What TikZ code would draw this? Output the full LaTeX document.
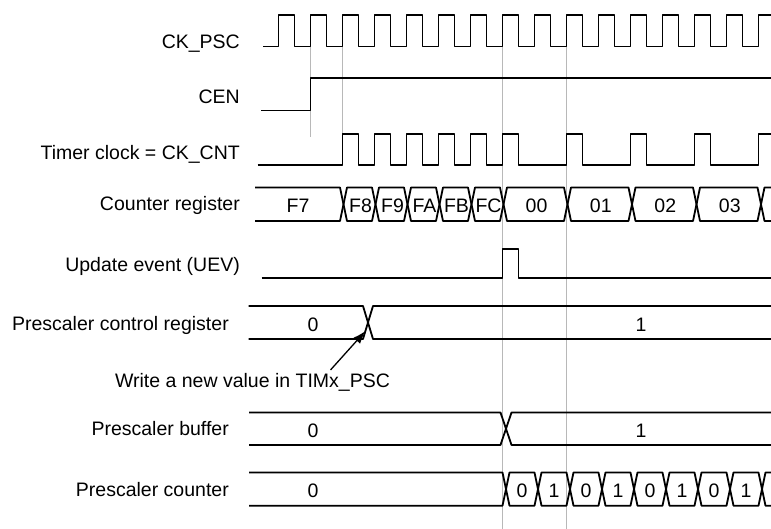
\documentclass[tikz,border=0pt]{standalone}
\usepackage{fontspec}
\setmainfont{Liberation Sans}
\usetikzlibrary{arrows.meta}

\begin{document}
\begin{tikzpicture}[x=1pt,y=-1pt,
    wave/.style={line width=1.8pt, line join=round},
    guide/.style={draw=black!28, line width=0.8pt},
    lbl/.style={anchor=base east, inner sep=0pt, font=\fontsize{19.5}{23}\selectfont},
    val/.style={anchor=base, inner sep=0pt, font=\fontsize{19.5}{23}\selectfont},
    pointer/.style={-{Latex[length=13pt,width=9pt]}, line width=1.3pt}]
  \clip (0,0) rectangle (771,529);
  % signal names
  \draw
    (240,48.7) node[lbl] (ckpsc){CK\_PSC}
    (240,103.5) node[lbl] (cen){CEN}
    (240,159.3) node[lbl] (ckcnt){Timer clock = CK\_CNT}
    (240,211) node[lbl] (cntreg){Counter register}
    (240,271.7) node[lbl] (uev){Update event (UEV)}
    (229,330.7) node[lbl] (pscctl){Prescaler control register}
    (229,435.7) node[lbl] (pscbuf){Prescaler buffer}
    (229,496) node[lbl] (psccnt){Prescaler counter};
  % guide lines
  \draw[guide] (310.5,46.5) -- (310.5,137);
  \draw[guide] (342.5,46.5) -- (342.5,134);
  \draw[guide] (502.5,46.5) -- (502.5,529);
  \draw[guide] (566.5,46.5) -- (566.5,529);
  % CK_PSC
  \draw[wave] (263,46.5) -- (278.5,46.5)
    \foreach \k in {0,...,15} { -- ++(0,-31.5) -- ++(16,0) -- ++(0,31.5) -- ++(16,0) };
  % CEN
  \draw[wave] (261,110.5) -- (310.5,110.5) -- (310.5,78.3) -- (775,78.3);
  % CK_CNT
  \draw[wave] (257.5,165) -- (342.5,165)
    \foreach \k in {0,...,5} { -- ++(0,-31) -- ++(16,0) -- ++(0,31) -- ++(16,0) }
    -- (566.5,165)
    \foreach \k in {0,...,3} { -- ++(0,-31) -- ++(16,0) -- ++(0,31) -- ++(48,0) };
  % counter register
  \draw[wave] (255,187.5) -- (340,187.5) -- (343.5,204.3) -- (340,221) -- (255,221);
  \node[val] (cntF7) at (298,212.5) {F7};
  \foreach \a/\b/\v in {343.5/375.5/F8, 375.5/407.5/F9, 407.5/439.5/FA,
      439.5/471.5/FB, 471.5/503.5/FC, 503.5/567.5/00, 567.5/632/01,
      632/696.5/02, 696.5/761/03}
    \draw[wave] (\a,204.3) -- (\a+3.5,187.5) -- (\b-3.5,187.5) -- (\b,204.3)
      -- (\b-3.5,221) -- (\a+3.5,221) -- cycle
      node[val] (cnt\v) at ({(\a+\b)/2+1},212.5) {\v};
  \draw[wave] (775,187.5) -- (764.5,187.5) -- (761,204.3) -- (764.5,221) -- (775,221);
  % update event
  \draw[wave] (261.5,278.3) -- (502.5,278.3) -- (502.5,249) -- (518.5,249)
    -- (518.5,278.3) -- (775,278.3);
  % prescaler control register
  \draw[wave] (248.5,306) -- (363,306) -- (368,322.5) -- (363,339) -- (248.5,339);
  \draw[wave] (775,306) -- (373,306) -- (368,322.5) -- (373,339) -- (775,339);
  \node[val] (ctl0) at (313,331.5) {0};
  \node[val] (ctl1) at (641,331.5) {1};
  \node[val, inner sep=3pt] (write) at (252.5,387.3) {Write a new value in TIMx\_PSC};
  \coordinate (pcrx) at (365.5,331);
  \draw[pointer] ([xshift=78pt]write.north) -- (pcrx);
  % prescaler buffer
  \draw[wave] (249,412.5) -- (500.5,412.5) -- (506,428.7) -- (500.5,445) -- (249,445);
  \draw[wave] (775,412.5) -- (511.5,412.5) -- (506,428.7) -- (511.5,445) -- (775,445);
  \node[val] (buf0) at (313,437.3) {0};
  \node[val] (buf1) at (641,437.3) {1};
  % prescaler counter
  \draw[wave] (249,472.5) -- (502.5,472.5) -- (506,489.1) -- (502.5,505.7) -- (249,505.7);
  \node[val] (cnt0) at (313,497.3) {0};
  \foreach \i/\v in {0/0, 1/1, 2/0, 3/1, 4/0, 5/1, 6/0, 7/1}
    \draw[wave] (506+32*\i,489.1) -- (509.5+32*\i,472.5) -- (534.5+32*\i,472.5)
      -- (538+32*\i,489.1) -- (534.5+32*\i,505.7) -- (509.5+32*\i,505.7) -- cycle
      node[val] (psc\i) at (522+32*\i,497.3) {\v};
  \draw[wave] (775,472.5) -- (765.5,472.5) -- (762,489.1) -- (765.5,505.7) -- (775,505.7);
\end{tikzpicture}
\end{document}
